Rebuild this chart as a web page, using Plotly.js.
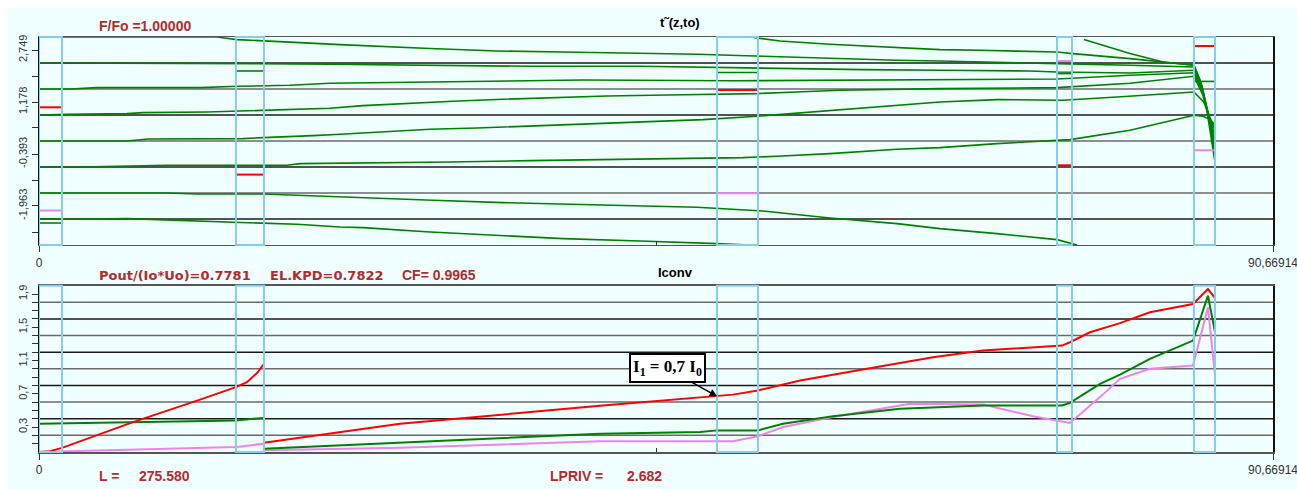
<!DOCTYPE html>
<html>
<head>
<meta charset="utf-8">
<script src="https://cdn.plot.ly/plotly-3.0.1.min.js"></script>
<style>
  html, body { margin: 0; padding: 0; background: #ffffff; }
  #chart { position: absolute; left: 8px; top: 8px; width: 1289px; height: 481px; }
</style>
</head>
<body>
<div id="chart"></div>
<script>
// ---------------- data ----------------
const zMax = 90.66914;

// gap (cavity) positions along z
const gapStart = [0, 14.47, 49.82, 74.80, 84.86];
const gapEnd   = [1.69, 16.53, 52.83, 75.90, 86.41];

// gap markers in the phase panel (red / violet / green)
const gapRed    = [1.018, -1.015, 1.541, -0.734, 2.870];
const gapViolet = [-2.100, null, -1.580, 2.417, -0.281];
const gapGreen  = [null, 2.115, 2.070, 2.036, 1.800];

// electron phase trajectories t~(z,to)
const trajA_z = [0, 13.08, 14.55, 16.46, 22.12, 28.73, 33.65, 38.50, 44.16, 48.35, 53.20, 58.12, 63.04, 66.20, 71.56, 74.80, 80.16, 84.86, 85.45, 85.96, 86.41];
const trajA_t = [3.14, 3.14, 3.063, 3.021, 2.912, 2.792, 2.719, 2.689, 2.659, 2.619, 2.559, 2.489, 2.438, 2.417, 2.356, 2.338, 2.287, 2.236, 1.653, 0.746, -0.372];

const trajB_z = [0, 14.25, 16.02, 21.38, 28.22, 36.08, 44.16, 50.77, 54.45, 60.54, 66.20, 72.81, 74.80, 80.16, 84.86, 85.45, 85.96, 86.41];
const trajB_t = [2.356, 2.356, 2.338, 2.317, 2.296, 2.257, 2.257, 2.218, 2.175, 2.157, 2.136, 2.115, 2.085, 2.054, 2.136, 1.592, 0.686, -0.221];

const trajC_z = [0, 2.28, 4.26, 11.83, 14.55, 18.44, 21.38, 28.51, 32.92, 39.97, 50.99, 66.20, 74.80, 80.16, 84.86, 85.52, 86.04, 86.41];
const trajC_t = [1.571, 1.571, 1.613, 1.613, 1.653, 1.683, 1.743, 1.773, 1.813, 1.843, 1.820, 1.864, 1.873, 1.985, 2.060, 1.471, 0.625, -0.039];

const trajD_z = [0, 2.06, 6.47, 7.64, 12.34, 16.46, 17.93, 21.38, 23.81, 27.04, 30.42, 34.09, 38.80, 41.73, 46.14, 49.82, 52.76, 55.18, 58.85, 66.20, 74.80, 80.16, 84.86, 85.52, 86.04, 86.41];
const trajD_t = [0.785, 0.807, 0.828, 0.858, 0.876, 0.918, 0.949, 0.988, 1.069, 1.139, 1.199, 1.260, 1.320, 1.360, 1.390, 1.411, 1.432, 1.471, 1.532, 1.583, 1.613, 1.743, 1.955, 1.381, 0.625, 0.142];

const trajE_z = [0, 6.47, 8.01, 14.99, 16.46, 18.22, 20.13, 22.12, 25.06, 28.73, 32.18, 36.08, 39.97, 44.16, 48.79, 52.76, 55.18, 58.12, 61.57, 66.20, 70.39, 75.24, 79.21, 84.86, 85.59, 86.04, 86.41];
const trajE_t = [0, 0, 0.060, 0.073, 0.103, 0.121, 0.163, 0.202, 0.272, 0.353, 0.393, 0.453, 0.526, 0.586, 0.647, 0.746, 0.828, 0.906, 1.027, 1.178, 1.251, 1.230, 1.329, 1.480, 1.169, 0.686, 0.323];

const trajF_z = [0, 3.01, 9.40, 18.22, 19.18, 24.54, 30.20, 36.08, 42.47, 49.08, 51.73, 54.23, 58.12, 63.04, 66.20, 70.39, 75.75, 80.16, 84.86, 85.52, 86.04, 86.41];
const trajF_t = [-0.785, -0.785, -0.734, -0.734, -0.683, -0.665, -0.634, -0.592, -0.553, -0.532, -0.502, -0.462, -0.381, -0.251, -0.199, -0.079, 0.042, 0.323, 0.776, 0.746, 0.656, 0.474];

const trajG_z = [0, 9.40, 11.61, 16.46, 18.96, 22.12, 24.32, 28.95, 34.09, 39.02, 44.16, 48.35, 53.20, 58.12, 63.04, 66.20, 70.39, 74.80, 76.27, null, 76.78, 80.16, 82.59, 84.86, 85.30, 85.81, 86.41];
const trajG_t = [-1.571, -1.571, -1.601, -1.601, -1.640, -1.692, -1.722, -1.792, -1.861, -1.912, -1.964, -2.003, -2.115, -2.326, -2.495, -2.647, -2.798, -2.979, -3.142, null, 3.063, 2.640, 2.387, 2.287, 1.834, 0.927, -0.644];

const trajH_z = [0, 1.69, 6.47, 12.34, 16.46, 18.96, 22.12, 23.81, 28.73, 33.65, 38.50, 44.16, 48.35, 49.82, 52.24, null, 52.24, 54.45, 58.12, 63.04, 66.20, 69.14, 74.80, 75.97, 80.16, 84.86, 85.37, 85.89, 86.41];
const trajH_t = [-2.356, -2.366, -2.344, -2.417, -2.465, -2.517, -2.598, -2.616, -2.749, -2.849, -2.949, -3.021, -3.069, -3.100, -3.142, null, 3.142, 3.021, 2.921, 2.822, 2.761, 2.740, 2.689, 2.640, 2.489, 2.287, 1.773, 0.837, -0.523];

const trajI_z = [0, 1.69];
const trajI_t = [-2.477, -2.477];

// convection current Iconv (three harmonics)
const convRed_z    = [0, 0.81, 1.69, 6.91, 11.83, 14.47, 15.28, 16.02, 16.53, null,
                      16.53, 26.53, 41.22, 48.57, 49.82, 50.99, 52.83, 55.92, 60.84, 65.69, 69.36, 73.04, 75.17, 75.75, 77.22, 79.43, 81.63, 84.79, 85.89, 86.41];
const convRed_i    = [0.0, 0.01, 0.05, 0.36, 0.63, 0.78, 0.84, 0.95, 1.06, null,
                      0.11, 0.34, 0.555, 0.656, 0.67, 0.69, 0.74, 0.86, 1.0, 1.14, 1.22, 1.26, 1.28, 1.32, 1.44, 1.55, 1.68, 1.78, 1.96, 1.85];
const convGreen_z  = [0, 14.47, 16.53, null,
                      16.53, 26.53, 41.22, 48.57, 49.82, 52.83, 54.67, 58.34, 63.26, 69.36, 75.17, 75.75, 77.96, 79.43, 81.63, 84.79, 85.89, 86.41];
const convGreen_i  = [0.34, 0.38, 0.41, null,
                      0.04, 0.11, 0.22, 0.24, 0.26, 0.26, 0.34, 0.43, 0.52, 0.56, 0.56, 0.59, 0.82, 0.93, 1.12, 1.34, 1.88, 1.44];
const convViolet_z = [0, 14.47, 16.53, null,
                      16.53, 26.53, 41.22, 48.57, 50.99, 52.83, 54.67, 58.34, 64.00, 69.36, 73.04, 75.75, 77.96, 79.43, 81.63, 84.79, 85.89, 86.41];
const convViolet_i = [0.0, 0.06, 0.10, null,
                      0.02, 0.05, 0.13, 0.13, 0.13, 0.19, 0.30, 0.42, 0.58, 0.57, 0.43, 0.35, 0.66, 0.88, 1.0, 1.04, 1.74, 0.92];

// axis ticks / labels
const phaseTickVals  = [2.749, 1.178, -0.393, -1.963];
const phaseTickText  = ['2,749', '1,178', '-0,393', '-1,963'];
const phaseMinorVals = [1.963, 0.393, -1.178, -2.749];
const phaseGrid      = [2.356, 1.571, 0.785, 0, -0.785, -1.571, -2.356];
const convTickVals   = [0.3, 0.7, 1.1, 1.5, 1.9];
const convTickText   = ['0,3', '0,7', '1,1', '1,5', '1,9'];
const convMinorVals  = [0.1, 0.2, 0.4, 0.5, 0.6, 0.8, 0.9, 1.0, 1.2, 1.3, 1.4, 1.6, 1.7, 1.8];
const convGrid       = [0.2, 0.4, 0.6, 0.8, 1.0, 1.2, 1.4, 1.6, 1.8];
const zTickVals  = [0, zMax];
const zTickText  = ['0', '90,66914'];
const zMinorVals = [zMax / 2];

// ---------------- traces ----------------
const GREEN = '#008000', RED = '#FF0000', VIOLET = '#EE82EE';
const traces = [];
function line(x, y, color, width, xa, ya) {
  traces.push({type: 'scatter', mode: 'lines', x: x, y: y, xaxis: xa, yaxis: ya,
    line: {color: color, width: width}, connectgaps: false, hoverinfo: 'skip', showlegend: false});
}
[[trajA_z, trajA_t], [trajB_z, trajB_t], [trajC_z, trajC_t], [trajD_z, trajD_t],
 [trajE_z, trajE_t], [trajF_z, trajF_t], [trajG_z, trajG_t], [trajH_z, trajH_t],
 [trajI_z, trajI_t]].forEach(p => line(p[0], p[1], GREEN, 1.6, 'x', 'y'));

function gapMarks(vals) {
  const xs = [], ys = [];
  vals.forEach((v, i) => {
    if (v === null) return;
    xs.push(gapStart[i], gapEnd[i], null);
    ys.push(v, v, null);
  });
  return [xs, ys];
}
let gm = gapMarks(gapGreen);  line(gm[0], gm[1], GREEN, 1.6, 'x', 'y');
gm = gapMarks(gapViolet);     line(gm[0], gm[1], VIOLET, 2, 'x', 'y');
gm = gapMarks(gapRed);        line(gm[0], gm[1], RED, 2, 'x', 'y');

line(convViolet_z, convViolet_i, VIOLET, 2, 'x2', 'y2');
line(convGreen_z, convGreen_i, GREEN, 2, 'x2', 'y2');
line(convRed_z, convRed_i, RED, 2, 'x2', 'y2');

// ---------------- shapes ----------------
const shapes = [];
phaseGrid.forEach((v, i) => shapes.push({type: 'line', xref: 'x domain', yref: 'y', x0: 0, x1: 1, y0: v, y1: v,
  layer: 'below', line: {color: i % 2 === 0 ? '#1a1a1a' : '#6a6a6a', width: 1.5}}));
convGrid.forEach((v, i) => shapes.push({type: 'line', xref: 'x2 domain', yref: 'y2', x0: 0, x1: 1, y0: v, y1: v,
  layer: 'below', line: {color: i % 2 === 0 ? '#6a6a6a' : '#1a1a1a', width: 1.5}}));
gapStart.forEach((s, i) => {
  shapes.push({type: 'rect', xref: 'x', yref: 'y domain', x0: s, x1: gapEnd[i], y0: 0, y1: 1,
    layer: 'above', line: {color: '#87CEEB', width: 2}, fillcolor: 'rgba(0,0,0,0)'});
  shapes.push({type: 'rect', xref: 'x2', yref: 'y2 domain', x0: s, x1: gapEnd[i], y0: 0, y1: 1,
    layer: 'above', line: {color: '#87CEEB', width: 2}, fillcolor: 'rgba(0,0,0,0)'});
});

// ---------------- layout ----------------
const FONT = 'Arial, "Liberation Sans", sans-serif';
const WIDE = '"DejaVu Sans", Verdana, sans-serif';
const TITLE_RED = '#B52A2A';
const axisX = (anchor) => ({
  anchor: anchor, domain: [0, 1], range: [0, zMax], tickmode: 'array', tickvals: zTickVals, ticktext: zTickText,
  ticks: 'outside', ticklen: 6, tickcolor: '#333', tickwidth: 1, ticklabeloverflow: 'allow',
  minor: {tickmode: 'array', tickvals: zMinorVals, ticks: 'inside', ticklen: 4, tickcolor: '#333', showgrid: false},
  showline: true, linecolor: '#555', linewidth: 1.5, mirror: true,
  showgrid: false, zeroline: false, fixedrange: true,
  tickfont: {family: FONT, size: 12, color: '#333'}
});
const axisY = (anchor, domain, range, vals, text, minorVals) => ({
  anchor: anchor, domain: domain, range: range,
  tickmode: 'array', tickvals: vals, ticktext: text, tickangle: -90,
  ticks: 'outside', ticklen: 6, tickcolor: '#333',
  minor: {tickmode: 'array', tickvals: minorVals, ticks: 'outside', ticklen: 6, tickcolor: '#333', showgrid: false},
  showline: true, linecolor: '#111', linewidth: 1.5, mirror: true,
  showgrid: false, zeroline: false, fixedrange: true,
  tickfont: {family: FONT, size: 11, color: '#333'}
});
const layout = {
  width: 1289, height: 481,
  margin: {l: 31, r: 24, t: 29, b: 37},
  paper_bgcolor: '#F0FFFF', plot_bgcolor: '#F0FFFF',
  showlegend: false,
  xaxis: axisX('y'),
  xaxis2: axisX('y2'),
  yaxis: axisY('x', [0.4988, 1], [-Math.PI, Math.PI], phaseTickVals, phaseTickText, phaseMinorVals),
  yaxis2: axisY('x2', [0, 0.4007], [0, 2], convTickVals, convTickText, convMinorVals),
  shapes: shapes,
  annotations: [
    {xref: 'paper', yref: 'paper', x: 0.0859, y: 1.0265, xanchor: 'center', yanchor: 'middle', showarrow: false,
     text: '<b>F/Fo =1.00000</b>', font: {family: FONT, size: 14, color: TITLE_RED}},
    {xref: 'paper', yref: 'paper', x: 0.5194, y: 1.0361, xanchor: 'center', yanchor: 'middle', showarrow: false,
     text: '<b>t\u02DC(z,to)</b>', font: {family: FONT, size: 13, color: '#000'}},
    {xref: 'paper', yref: 'paper', x: 0.0470, y: 0.4265, xanchor: 'left', yanchor: 'middle', showarrow: false,
     text: '<b>Pout/(Io*Uo)=0.7781</b>', font: {family: WIDE, size: 13, color: TITLE_RED}},
    {xref: 'paper', yref: 'paper', x: 0.1856, y: 0.4265, xanchor: 'left', yanchor: 'middle', showarrow: false,
     text: '<b>EL.KPD=0.7822</b>', font: {family: WIDE, size: 13, color: TITLE_RED}},
    {xref: 'paper', yref: 'paper', x: 0.2925, y: 0.4265, xanchor: 'left', yanchor: 'middle', showarrow: false,
     text: '<b>CF= 0.9965</b>', font: {family: FONT, size: 14, color: TITLE_RED}},
    {xref: 'paper', yref: 'paper', x: 0.5154, y: 0.4320, xanchor: 'center', yanchor: 'middle', showarrow: false,
     text: '<b>Iconv</b>', font: {family: FONT, size: 13, color: '#000'}},
    {xref: 'paper', yref: 'paper', x: 0.0470, y: -0.0578, xanchor: 'left', yanchor: 'middle', showarrow: false,
     text: '<b>L =</b>', font: {family: FONT, size: 14, color: TITLE_RED}},
    {xref: 'paper', yref: 'paper', x: 0.0794, y: -0.0578, xanchor: 'left', yanchor: 'middle', showarrow: false,
     text: '<b>275.580</b>', font: {family: FONT, size: 14, color: TITLE_RED}},
    {xref: 'paper', yref: 'paper', x: 0.4125, y: -0.0578, xanchor: 'left', yanchor: 'middle', showarrow: false,
     text: '<b>LPRIV =</b>', font: {family: FONT, size: 14, color: TITLE_RED}},
    {xref: 'paper', yref: 'paper', x: 0.4749, y: -0.0578, xanchor: 'left', yanchor: 'middle', showarrow: false,
     text: '<b>2.682</b>', font: {family: FONT, size: 14, color: TITLE_RED}},
    {xref: 'x2', yref: 'y2', x: 49.82, y: 0.67, ax: -50, ay: -28, showarrow: true,
     arrowhead: 2, arrowsize: 1, arrowwidth: 1.5, arrowcolor: '#000',
     text: '<b>I<sub>1</sub> = 0,7 I<sub>0</sub></b>',
     font: {family: '"Liberation Serif", "Times New Roman", serif', size: 17, color: '#000'},
     bgcolor: '#ffffff', bordercolor: '#000', borderwidth: 2, borderpad: 2}
  ]
};

Plotly.newPlot('chart', traces, layout, {staticPlot: true, displayModeBar: false});
</script>
</body>
</html>
